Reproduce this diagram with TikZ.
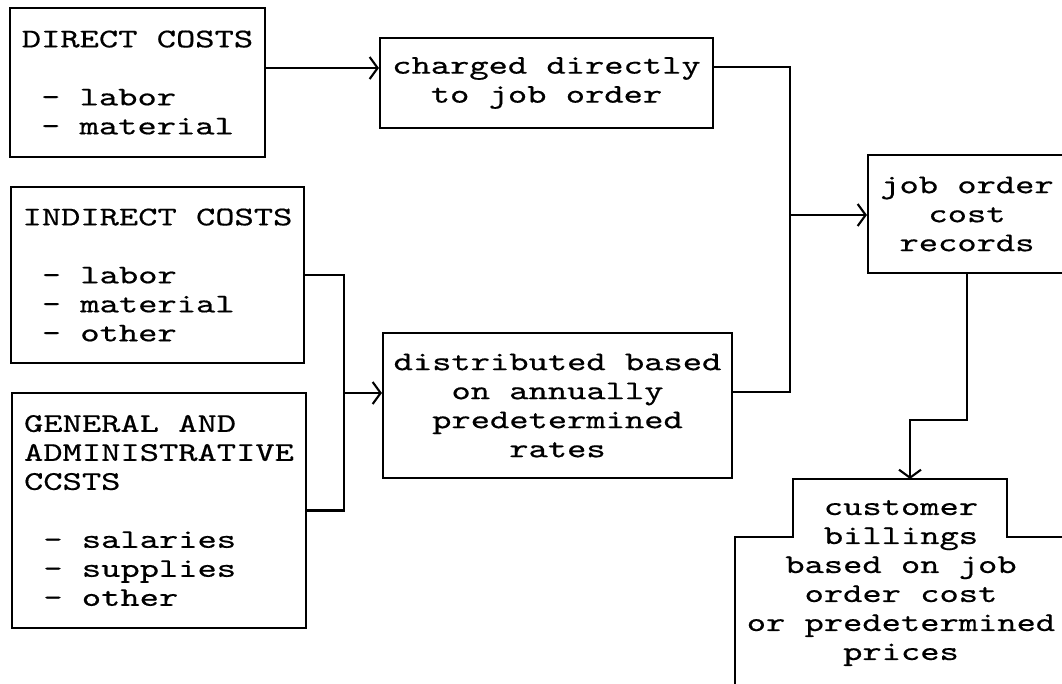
\documentclass[tikz,border=0pt]{standalone}
\usepackage{fontspec}
\usetikzlibrary{arrows.meta}
\newfontfamily\twfam{lmmono10-regular.otf}[FakeStretch=1.36,FakeBold=0.5]
\newcommand{\tw}{\twfam\fontsize{27}{29}\selectfont}
\begin{document}
\begin{tikzpicture}[x=1pt,y=-1pt,
  box/.style={draw,line width=2.1pt,inner sep=0pt,font=\tw},
  lbox/.style={box,align=left},
  cbox/.style={box,align=center},
  conn/.style={line width=2.1pt},
  arr/.style={conn,-{Straight Barb[length=8pt,width=22pt,line width=2.1pt]}}]
\clip (0,0) rectangle (1062,683);
\fill[white] (0,0) rectangle (1062,683);
% boxes
\node[lbox,minimum width=255pt,minimum height=149pt] (direct) at (137.5,82.5)
  {DIRECT COSTS\\ \\ \hphantom{x}- labor\\ \hphantom{x}- material};
\node[lbox,minimum width=293pt,minimum height=176pt] (indirect) at (157.5,275)
  {INDIRECT COSTS\\ \\ \hphantom{x}- labor\\ \hphantom{x}- material\\ \hphantom{x}- other};
\node[lbox,minimum width=294pt,minimum height=235pt] (ga) at (159,510.5)
  {GENERAL AND\\ ADMINISTRATIVE\\ CCSTS\\ \\ \hphantom{x}- salaries\\ \hphantom{x}- supplies\\ \hphantom{x}- other};
\node[cbox,minimum width=333pt,minimum height=90pt] (charged) at (546.5,83)
  {charged directly\\ to job order};
\node[cbox,minimum width=349pt,minimum height=145pt] (distrib) at (557.5,405.5)
  {distributed based\\ on annually\\ predetermined\\ rates};
\node[cbox,minimum width=198pt,minimum height=118pt] (job) at (967,214)
  {job order\\ cost\\ records};
\node[cbox,draw=none] (billing) at (901,583)
  {customer\\ billings\\ based on job\\ order cost\\ or predetermined\\ prices};
% outline of the billing box (cut by the picture edge)
\draw[conn] (735,700) -- (735,537) -- (793,537) -- (793,479) -- (1007,479) -- (1007,537) -- (1080,537);
\coordinate (btop) at (910,479);
% connectors
\coordinate (jn) at (790,215);
\coordinate (dn) at (344,393);
\draw[arr] (direct.east |- 0,68) -- (charged.west |- 0,68);
\draw[conn] (charged.east |- 0,67) -| (jn);
\draw[conn] (distrib.east |- 0,392) -| (jn);
\draw[arr] (jn) -- (job.west |- jn);
\draw[conn] (indirect.east) -| (dn);
\draw[conn] (ga.east) -| (dn);
\draw[arr] (dn) -- (distrib.west |- dn);
\draw[arr] (job.south) -- (967,420) -| (btop);
\end{tikzpicture}
\end{document}
